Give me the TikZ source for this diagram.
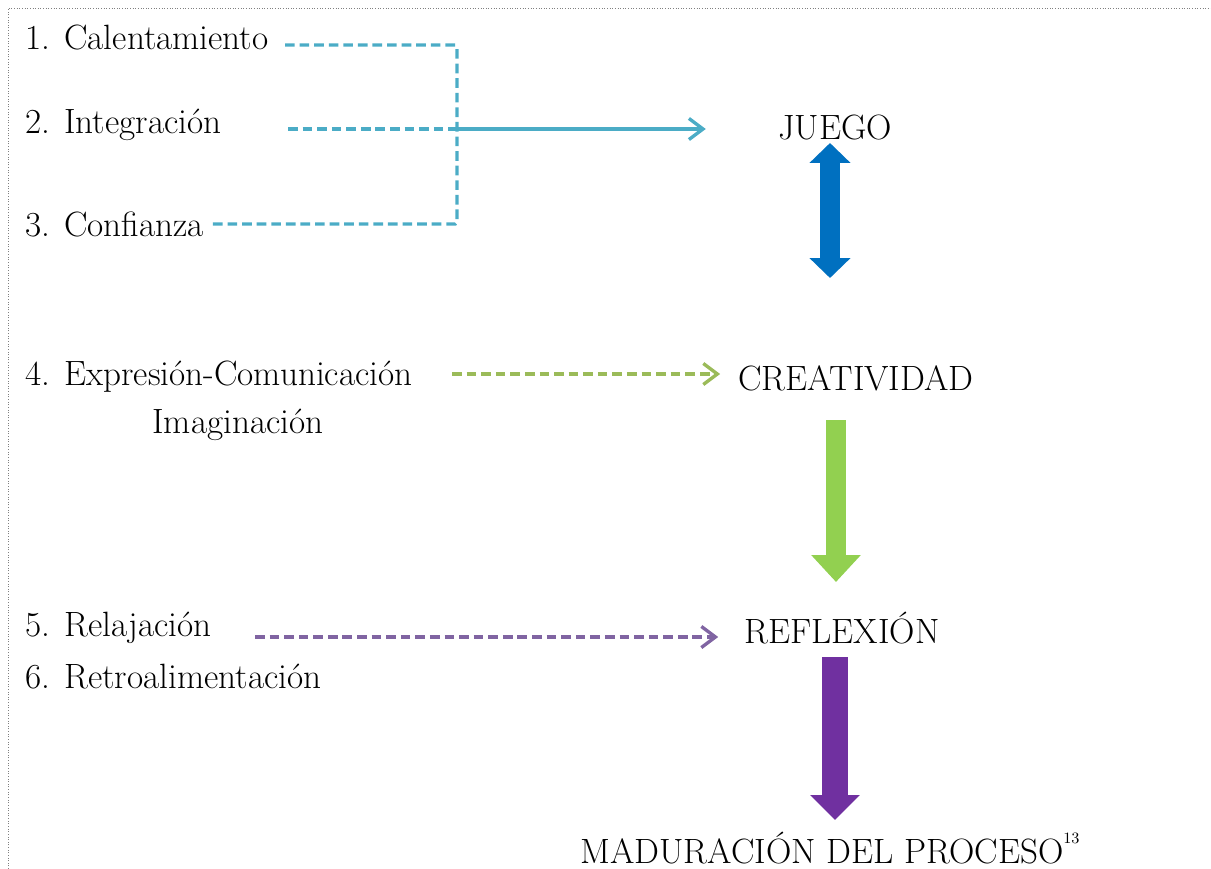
\documentclass[tikz,border=0pt]{standalone}
\usetikzlibrary{arrows.meta}
\usepackage{xcolor}
\definecolor{aqua}{HTML}{4BACC6}
\definecolor{ablue}{HTML}{0070C0}
\definecolor{olive}{HTML}{9BBB59}
\definecolor{lgreen}{HTML}{92D050}
\definecolor{lilac}{HTML}{8064A2}
\definecolor{violet}{HTML}{7030A0}

\begin{document}
\begin{tikzpicture}[x=0.02cm, y=-0.02cm, font=\fontsize{20}{24}\selectfont,
  item/.style={anchor=west, inner sep=0},
  stage/.style={inner sep=0},
  dashline/.style={line width=1.9pt, dash pattern=on 5.5pt off 2.8pt},
  chevron/.style={-{Straight Barb[length=8pt, width=12pt]}},
  block/.style={line width=#1}]
\useasboundingbox (0,0) rectangle (1211,869);
\draw[gray, densely dotted, line width=.5pt] (8,869) -- (8,8) -- (1211,8);

% activities
\node[item] (cal) at (25,37)  {1. Calentamiento};
\node[item] (int) at (25,125) {2. Integración};
\node[item] (con) at (25,224) {3. Confianza};
\node[item] (exp) at (25,377) {4. Expresión-Comunicación};
\node[item] (ima) at (152,425) {Imaginación};
\node[item] (rel) at (25,628) {5. Relajación};
\node[item] (ret) at (25,677) {6. Retroalimentación};

% stages
\node[stage] (juego) at (835,127) {JUEGO};
\node[stage] (creat) at (856,378) {CREATIVIDAD};
\node[stage] (refl)  at (842,628) {REFLEXIÓN};
\node[stage] (madur) at (830,848) {MADURACIÓN DEL PROCESO\raisebox{1.3ex}{\fontsize{9}{9}\selectfont 13}};

% bracket of 1-3
\coordinate (a1) at (285,45);
\coordinate (a2) at (288,129);
\coordinate (a3) at (210,224);
\coordinate (joint) at (457,129);
\draw[aqua, dashline, rounded corners=1pt] (a1) -- (457,45) -- (457,224) -- (a3);
\draw[aqua, dashline] (a2) -- (joint);
\draw[aqua, line width=1.9pt, chevron, shorten >=72*0.02cm] (joint) -- (joint -| juego.west);

\coordinate (g0) at (452,374);
\draw[olive, dashline, chevron, shorten >=18*0.02cm] (g0) -- (g0 -| creat.west);
\coordinate (p0) at (255,637);
\draw[lilac, dashline, chevron, shorten >=26*0.02cm] (p0) -- (p0 -| refl.west);

% block arrows
\coordinate (b1) at (830,143);
\coordinate (b2) at (830,278);
\draw[ablue, block=0.4cm, {Triangle[width=0.8cm, length=0.4cm]}-{Triangle[width=0.8cm, length=0.4cm]}] (b1) -- (b2);
\coordinate (c1) at (836,420);
\coordinate (c2) at (836,582);
\draw[lgreen, block=0.4cm, -{Triangle[width=0.96cm, length=0.54cm]}] (c1) -- (c2);
\coordinate (d1) at (835,657);
\coordinate (d2) at (835,820);
\draw[violet, block=0.52cm, -{Triangle[width=0.96cm, length=0.5cm]}] (d1) -- (d2);
\end{tikzpicture}
\end{document}
